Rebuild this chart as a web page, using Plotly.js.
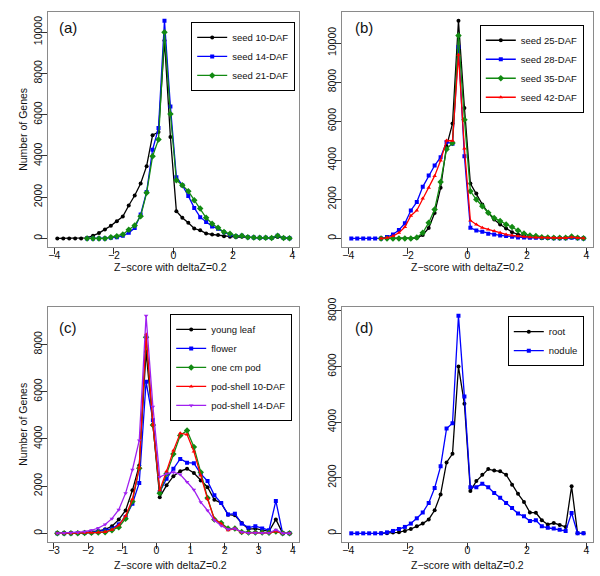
<!DOCTYPE html>
<html>
<head>
<meta charset="utf-8">
<script src="https://cdn.plot.ly/plotly-3.0.1.min.js"></script>
<style>
  body { margin: 0; background: #fff; }
  #chart { width: 600px; height: 576px; }
</style>
</head>
<body>
<div id="chart"></div>
<script>
// bin centres (deltaZ = 0.2)
const zFull = [-3.9, -3.7, -3.5, -3.3, -3.1, -2.9, -2.7, -2.5, -2.3, -2.1, -1.9, -1.7, -1.5, -1.3, -1.1, -0.9, -0.7, -0.5, -0.3, -0.1,
  0.1, 0.3, 0.5, 0.7, 0.9, 1.1, 1.3, 1.5, 1.7, 1.9, 2.1, 2.3, 2.5, 2.7, 2.9, 3.1, 3.3, 3.5, 3.7, 3.9];
const zShort = [-2.9, -2.7, -2.5, -2.3, -2.1, -1.9, -1.7, -1.5, -1.3, -1.1, -0.9, -0.7, -0.5, -0.3, -0.1,
  0.1, 0.3, 0.5, 0.7, 0.9, 1.1, 1.3, 1.5, 1.7, 1.9, 2.1, 2.3, 2.5, 2.7, 2.9, 3.1, 3.3, 3.5, 3.7, 3.9];

// (a)
const aSeed10 = [0, 0, 0, 0, 0, 30, 130, 256, 435, 613, 837, 1063, 1595, 2080, 2660, 3500, 5000, 5160, 9600, 4920,
  1320, 1000, 760, 480, 390, 240, 190, 160, 110, 80, 60, 80, 50, 40, 30, 30, 20, 70, 20, 10];
const aSeed14 = [0, 0, 0, 0, 30, 60, 127, 270, 500, 1160, 2250, 4300, 5350, 10550, 6390,
  2970, 2580, 2060, 1480, 1030, 800, 580, 470, 300, 180, 110, 130, 60, 40, 30, 30, 20, 130, 20, 10];
const aSeed21 = [0, 0, 0, 0, 60, 110, 190, 420, 630, 1080, 2210, 3980, 4800, 10000, 6030,
  2820, 2580, 2290, 1850, 1450, 1000, 710, 520, 310, 230, 110, 130, 60, 40, 30, 30, 20, 130, 20, 10];

// (b)
const bSeed25 = [0, 0, 0, 0, 0, 0, 20, 180, 530, 1300, 2590, 4720, 5880, 11140, 6680,
  2810, 2300, 1740, 1310, 970, 715, 510, 320, 200, 130, 80, 60, 40, 30, 20, 20, 20, 60, 20, 10];
const bSeed28 = [0, 0, 0, 0, 0, 0, 70, 200, 430, 770, 1430, 1860, 2640, 3220, 3730, 4160, 4940, 4840, 9800, 4210,
  545, 410, 340, 240, 200, 150, 120, 80, 50, 40, 30, 30, 20, 20, 10, 10, 10, 30, 10, 0];
const bSeed35 = [0, 0, 0, 0, 0, 0, 50, 290, 800, 1480, 2890, 4570, 4890, 10390, 6080,
  2420, 1990, 1650, 1310, 1050, 885, 715, 580, 410, 250, 150, 120, 60, 40, 30, 30, 30, 100, 30, 10];
const bSeed42 = [0, 30, 120, 290, 580, 1160, 1430, 2040, 2590, 3200, 3990, 5010, 5000, 9400, 4600,
  920, 715, 545, 460, 373, 290, 205, 153, 110, 80, 60, 50, 40, 30, 30, 20, 20, 60, 20, 10];

// (c)
const cYoungLeaf = [0, 0, 10, 20, 30, 70, 100, 170, 300, 580, 970, 1820, 2870, 7700, 4600,
  1530, 2030, 2420, 2630, 2730, 2550, 2240, 1950, 1420, 1280, 790, 760, 440, 180, 200, 130, 85, 590, 0, 0];
const cFlower = [0, 0, 0, 10, 20, 40, 70, 130, 200, 380, 690, 1250, 2130, 6420, 4790,
  1750, 2310, 2730, 3150, 2990, 2970, 2520, 2210, 1610, 1280, 800, 830, 410, 240, 300, 200, 130, 1370, 0, 0];
const cOneCmPod = [0, 0, 0, 0, 10, 20, 30, 50, 130, 260, 620, 1350, 2750, 8300, 4580,
  1700, 2520, 3360, 4140, 4350, 3650, 2590, 1500, 590, 440, 200, 200, 60, 30, 30, 30, 20, 80, 0, 0];
const cPodShell10 = [0, 0, 0, 10, 20, 30, 40, 60, 150, 340, 730, 1440, 2790, 8430, 4600,
  1820, 2630, 3500, 4240, 4180, 3460, 2450, 1450, 600, 410, 130, 200, 40, 15, 20, 15, 15, 85, 0, 0];
const cPodShell14 = [0, 10, 20, 40, 70, 130, 225, 370, 620, 1000, 1700, 2690, 3930, 9210, 5360,
  2380, 2520, 2590, 2490, 2170, 1840, 1320, 970, 550, 320, 170, 200, 60, 15, 20, 15, 15, 150, 0, 0];

// (d)
const dRoot = [0, 0, 25, 35, 85, 155, 250, 350, 500, 830, 1400, 2550, 2860, 6000, 4660,
  1520, 1880, 2110, 2310, 2260, 2230, 2110, 1750, 1420, 1130, 750, 740, 470, 320, 370, 300, 230, 1690, 0, 0];
const dNodule = [0, 0, 0, 0, 0, 0, 35, 85, 155, 230, 350, 540, 750, 1090, 1630, 2410, 3770, 3960, 7830, 4920,
  1660, 1660, 1780, 1660, 1450, 1280, 1090, 910, 710, 610, 440, 470, 250, 200, 170, 130, 85, 730, 0, 0];

const FONT = '"Liberation Sans", Arial, Helvetica, sans-serif';
const GREEN = '#128a12';
const PURPLE = '#a020f0';

function series(name, x, y, color, symbol, n, legend) {
  const sfx = n === 1 ? '' : n;
  return {
    x: x, y: y, name: name,
    type: 'scatter', mode: 'lines+markers',
    xaxis: 'x' + sfx, yaxis: 'y' + sfx,
    legend: legend,
    line: { color: color, width: 1.3 },
    marker: { color: color, symbol: symbol, size: symbol === 'diamond' ? 5 : 4 }
  };
}

const data = [
  series('seed 10-DAF', zFull, aSeed10, 'black', 'circle', 1, 'legend'),
  series('seed 14-DAF', zShort, aSeed14, 'blue', 'square', 1, 'legend'),
  series('seed 21-DAF', zShort, aSeed21, GREEN, 'diamond', 1, 'legend'),

  series('seed 25-DAF', zShort, bSeed25, 'black', 'circle', 2, 'legend2'),
  series('seed 28-DAF', zFull, bSeed28, 'blue', 'square', 2, 'legend2'),
  series('seed 35-DAF', zShort, bSeed35, GREEN, 'diamond', 2, 'legend2'),
  series('seed 42-DAF', zShort, bSeed42, 'red', 'triangle-up', 2, 'legend2'),

  series('young leaf', zShort, cYoungLeaf, 'black', 'circle', 3, 'legend3'),
  series('flower', zShort, cFlower, 'blue', 'square', 3, 'legend3'),
  series('one cm pod', zShort, cOneCmPod, GREEN, 'diamond', 3, 'legend3'),
  series('pod-shell 10-DAF', zShort, cPodShell10, 'red', 'triangle-up', 3, 'legend3'),
  series('pod-shell 14-DAF', zShort, cPodShell14, PURPLE, 'triangle-down', 3, 'legend3'),

  series('root', zShort, dRoot, 'black', 'circle', 4, 'legend4'),
  series('nodule', zFull, dNodule, 'blue', 'square', 4, 'legend4')
];

function xAxis(domain, range, dtick, anchor) {
  return {
    domain: domain, range: range, dtick: dtick, tick0: 0, anchor: anchor,
    showgrid: false, zeroline: false,
    showline: true, mirror: true, linecolor: '#8a8a8a', linewidth: 1,
    ticks: 'outside', ticklen: 6, tickcolor: '#333', ticklabelstandoff: -8,
    tickfont: { family: FONT, size: 10.5, color: '#111' }
  };
}

function yAxis(domain, range, anchor) {
  return {
    domain: domain, range: range, dtick: 2000, tick0: 0, anchor: anchor,
    tickformat: 'd',
    showgrid: false, zeroline: false,
    showline: true, mirror: true, linecolor: '#8a8a8a', linewidth: 1,
    ticks: 'outside', ticklen: 6, tickcolor: '#333', tickangle: -90, ticklabelstandoff: -5,
    tickfont: { family: FONT, size: 10.5, color: '#111' }
  };
}

function legendBox(x, y) {
  return {
    x: x, y: y, xanchor: 'right', yanchor: 'top',
    bgcolor: '#fff', bordercolor: '#000', borderwidth: 1,
    itemwidth: 30, tracegroupgap: 0,
    font: { family: FONT, size: 9.5, color: '#111' }
  };
}

const colL = [0.08, 0.498];
const colR = [0.57, 0.988];
const rowT = [0.571, 0.979];
const rowB = [0.059, 0.467];
const xTitle = 'Z\u2212score with deltaZ=0.2';

function label(text, x, y, size, opts) {
  return Object.assign({
    text: text, x: x, y: y, xref: 'paper', yref: 'paper',
    xanchor: 'center', yanchor: 'middle',
    showarrow: false,
    font: { family: FONT, size: size, color: '#111' }
  }, opts || {});
}

const layout = {
  width: 600, height: 576,
  margin: { l: 0, r: 0, t: 0, b: 0 },
  paper_bgcolor: '#fff', plot_bgcolor: '#fff',
  font: { family: FONT },
  xaxis: xAxis(colL, [-4.212, 4.212], 2, 'y'),
  yaxis: yAxis(rowT, [-422, 10972], 'x'),
  xaxis2: xAxis(colR, [-4.212, 4.212], 2, 'y2'),
  yaxis2: yAxis(rowT, [-446, 11586], 'x2'),
  xaxis3: xAxis(colL, [-3.172, 4.172], 1, 'y3'),
  yaxis3: yAxis(rowB, [-368, 9578], 'x3'),
  xaxis4: xAxis(colR, [-4.212, 4.212], 2, 'y4'),
  yaxis4: yAxis(rowB, [-313, 8143], 'x4'),
  legend: legendBox(0.492, 0.962),
  legend2: legendBox(0.973, 0.957),
  legend3: legendBox(0.487, 0.455),
  legend4: legendBox(0.973, 0.451),
  annotations: [
    label('(a)', 0.095, 0.953, 15, { xanchor: 'left' }),
    label('(b)', 0.588, 0.952, 15, { xanchor: 'left' }),
    label('(c)', 0.095, 0.432, 15, { xanchor: 'left' }),
    label('(d)', 0.588, 0.432, 15, { xanchor: 'left' }),
    label(xTitle, 0.285, 0.536, 10.5),
    label(xTitle, 0.779, 0.536, 10.5),
    label(xTitle, 0.285, 0.019, 10.5),
    label(xTitle, 0.779, 0.019, 10.5),
    label('Number of Genes', 0.037, 0.775, 10.5, { textangle: -90 }),
    label('Number of Genes', 0.037, 0.263, 10.5, { textangle: -90 })
  ]
};

Plotly.newPlot('chart', data, layout, { displayModeBar: false, staticPlot: true });
</script>
</body>
</html>
